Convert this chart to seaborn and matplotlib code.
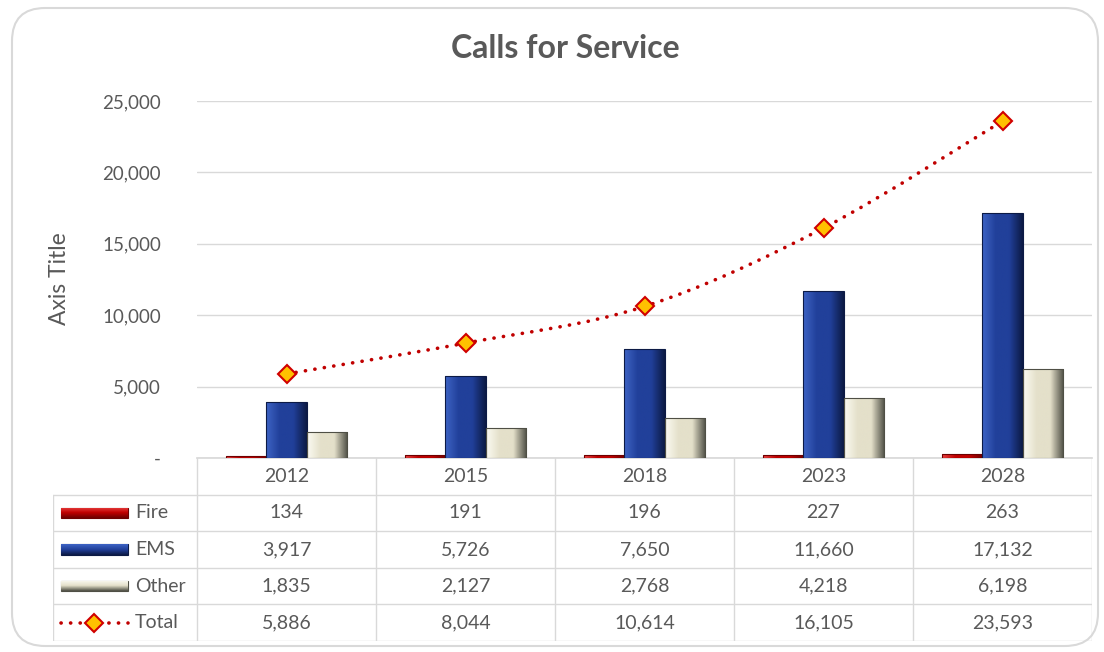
import numpy as np
import pandas as pd
import matplotlib
matplotlib.use("Agg")
import matplotlib.pyplot as plt
import seaborn as sns
from matplotlib.patches import FancyBboxPatch, Rectangle, PathPatch
from matplotlib.path import Path
from matplotlib.colors import LinearSegmentedColormap

years = ["2012", "2015", "2018", "2023", "2028"]
fire = [134, 191, 196, 227, 263]
ems = [3917, 5726, 7650, 11660, 17132]
other = [1835, 2127, 2768, 4218, 6198]
total = [5886, 8044, 10614, 16105, 23593]
series_names = ["Fire", "EMS", "Other"]

GRAY = "#595959"
GRID = "#d9d9d9"
colors = {"Fire": "#c00000", "EMS": "#21409a", "Other": "#e4e0ca"}
dark = {"Fire": "#6e0000", "EMS": "#0c1a45", "Other": "#4f4f45"}
light = {"Fire": "#e84040", "EMS": "#3d63c4", "Other": "#fbfaf2"}

sns.set_theme(style="white")
plt.rcParams["font.family"] = ["Lato", "DejaVu Sans"]

W, H = 1104, 652
fig = plt.figure(figsize=(W / 100, H / 100), dpi=100)

def fx(px):
    return px / W

def fy(py):
    return 1 - py / H

# rounded chart border
border = FancyBboxPatch((fx(12), fy(646)), fx(1086), fy(8) - fy(646),
                        boxstyle="round,pad=0,rounding_size=0.03",
                        transform=fig.transFigure, fc="none",
                        ec="#d9d9d9", lw=1.5, mutation_aspect=W / H, zorder=-10)
fig.patches.append(border)

left, right, top, bottom = 197, 1092, 101, 458
ax = fig.add_axes([fx(left), fy(bottom), fx(right) - fx(left), fy(top) - fy(bottom)])

df = pd.DataFrame({
    "year": years * 3,
    "series": [s for s in series_names for _ in years],
    "value": fire + ems + other,
})
sns.barplot(data=df, x="year", y="value", hue="series", order=years,
            hue_order=series_names, palette=colors, width=0.68,
            saturation=1, legend=False, ax=ax, zorder=3, edgecolor="none")

# bevel look: side gradient + lighter top / darker bottom band
def bevel(patch, name):
    x0, y0 = patch.get_x(), patch.get_y()
    w, h = patch.get_width(), patch.get_height()
    if h <= 0:
        return
    cmap = LinearSegmentedColormap.from_list(
        "b", [light[name], colors[name], colors[name], dark[name]])
    grad = np.linspace(0, 1, 64).reshape(1, -1)
    im = ax.imshow(grad, extent=(x0, x0 + w, y0, y0 + h), aspect="auto",
                   cmap=cmap, zorder=3.5, interpolation="bicubic")
    im.set_clip_path(patch)
    patch.set_edgecolor(dark[name])
    patch.set_linewidth(0.8)

for i, name in enumerate(series_names):
    cont = ax.containers[i]
    for p in cont.patches:
        bevel(p, name)
        p.set_zorder(4)
        p.set_facecolor("none")

# smoothed total line (Catmull-Rom as bezier) + diamond markers
xs = np.arange(len(years), dtype=float)
ys = np.array(total, dtype=float)
verts = [(xs[0], ys[0])]
codes = [Path.MOVETO]
for i in range(len(xs) - 1):
    p0 = np.array([xs[max(i - 1, 0)], ys[max(i - 1, 0)]])
    p1 = np.array([xs[i], ys[i]])
    p2 = np.array([xs[i + 1], ys[i + 1]])
    p3 = np.array([xs[min(i + 2, len(xs) - 1)], ys[min(i + 2, len(xs) - 1)]])
    c1 = p1 + (p2 - p0) / 6
    c2 = p2 - (p3 - p1) / 6
    verts += [tuple(c1), tuple(c2), tuple(p2)]
    codes += [Path.CURVE4] * 3
DOTS = (0, (0.05, 2.6))
ax.add_patch(PathPatch(Path(verts, codes), fill=False, ec="#c00000", lw=2.6,
                       ls=DOTS, capstyle="round", zorder=5))
ax.plot(xs, ys, ls="none", marker="D", ms=9, mfc="#ffc000", mec="#d00000",
        mew=1.5, zorder=6)

ax.set_ylim(0, 25000)
ax.set_xlim(-0.5, len(years) - 0.5)
ax.set_yticks(range(0, 25001, 5000))
ax.set_yticklabels(["-"] + [f"{v:,}" for v in range(5000, 25001, 5000)])
ax.tick_params(axis="y", length=0, pad=26, labelsize=13.5, labelcolor=GRAY)
ax.set_xticks([])
ax.set_xlabel("")
ax.set_ylabel("")
ax.grid(axis="y", color=GRID, lw=1, zorder=0)
for s in ["top", "right", "left"]:
    ax.spines[s].set_visible(False)
ax.spines["bottom"].set_color(GRID)
ax.patch.set_alpha(0)

fig.text(fx(565), fy(48), "Calls for Service", ha="center", va="center",
         fontsize=23, fontweight="bold", color=GRAY)
fig.text(fx(60), fy(279), "Axis Title", ha="center", va="center",
         rotation=90, fontsize=16.5, color=GRAY)

# data table
tl, tb = 53, 641
unit = (right - left) / len(years)
tax = fig.add_axes([fx(tl), fy(tb), fx(right) - fx(tl), fy(bottom) - fy(tb)])
xl = -0.5 - (left - tl) / unit
tax.axis("off")
lc = dict(color=GRID, lw=1)
for r in range(1, 6):
    tax.plot([xl, len(years) - 0.5], [r, r], **lc)
for c in range(len(years) + 1):
    tax.plot([c - 0.5, c - 0.5], [0, 5], **lc)
tax.plot([xl, xl], [1, 5], **lc)

FS = 14
for c, yr in enumerate(years):
    tax.text(c, 0.5, yr, ha="center", va="center", fontsize=FS, color=GRAY)
rows = [("Fire", fire), ("EMS", ems), ("Other", other), ("Total", total)]
kx0 = xl + (61 - tl) / unit
kx1 = xl + (128 - tl) / unit
tx = xl + (135 - tl) / unit
for r, (name, vals) in enumerate(rows, start=1):
    yc = r + 0.5
    for c, v in enumerate(vals):
        tax.text(c, yc, f"{v:,}", ha="center", va="center", fontsize=FS, color=GRAY)
    tax.text(tx, yc, name, ha="left", va="center", fontsize=FS, color=GRAY)
    if name == "Total":
        tax.plot([kx0, kx1], [yc, yc], color="#c00000", lw=2.6,
                 ls=DOTS, dash_capstyle="round")
        tax.plot([(kx0 + kx1) / 2], [yc], marker="D", ms=9, mfc="#ffc000",
                 mec="#d00000", mew=1.5)
    else:
        rect = Rectangle((kx0, yc - 0.14), kx1 - kx0, 0.28, fc=colors[name],
                         ec=dark[name], lw=0.8)
        tax.add_patch(rect)
        cmap = LinearSegmentedColormap.from_list(
            "k", [light[name], colors[name], dark[name]])
        grad = np.linspace(0, 1, 32).reshape(-1, 1)
        im = tax.imshow(grad, extent=(kx0, kx1, yc + 0.14, yc - 0.14),
                        aspect="auto", cmap=cmap, zorder=3, origin="upper")
        im.set_clip_path(rect)

tax.set_xlim(xl, len(years) - 0.5)
tax.set_ylim(5, 0)

fig.savefig("out.png", dpi=100)
